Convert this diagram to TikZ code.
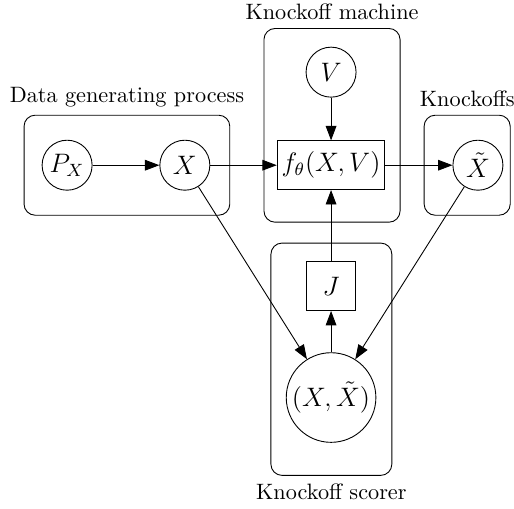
\documentclass[tikz,border=0pt]{standalone}
\usepackage{tikz}
\usetikzlibrary{arrows.meta}
\usepackage{amsmath}

\begin{document}
\begin{tikzpicture}[
    var/.style={draw,circle,minimum size=0.79cm,inner sep=1pt,font=\fontsize{11.5}{13}\selectfont},
    fac/.style={draw,rectangle,minimum height=0.77cm,minimum width=0.77cm,inner sep=2pt,font=\fontsize{11.5}{13}\selectfont},
    plate/.style={draw,rounded corners=5pt},
    edge/.style={-{Triangle[length=6.5pt,width=4.8pt]}}]
    \useasboundingbox (0,0) rectangle (8.12,8.03);

    % plates
    \node[plate,minimum width=3.25cm,minimum height=1.58cm,label={above:Data generating process}] (dgp) at (2.005,5.42) {};
    \node[plate,minimum width=2.15cm,minimum height=3.06cm,label={above:Knockoff machine}] (km) at (5.245,6.05) {};
    \node[plate,minimum width=1.36cm,minimum height=1.58cm,label={above:Knockoffs}] (ko) at (7.38,5.42) {};
    \node[plate,minimum width=1.91cm,minimum height=3.67cm,label={below:Knockoff scorer}] (ks) at (5.235,2.355) {};

    % variables
    \node[var] (px) at (1.06,5.42) {\(P_X\)};
    \node[var] (x) at (2.92,5.42) {\(X\)};
    \node[fac,minimum width=1.56cm] (f) at (5.23,5.42) {\(f_\theta(X,V)\)};
    \node[var] (v) at (5.23,6.89) {\(V\)};
    \node[var] (xt) at (7.55,5.42) {\(\tilde{X}\)};
    \node[fac] (j) at (5.23,3.51) {\(J\)};
    \node[var,minimum size=1.33cm] (xx) at (5.23,1.75) {\((X,\tilde{X})\)};

    % edges
    \draw[edge] (px) -- (x);
    \draw[edge] (x) -- (f);
    \draw[edge] (f) -- (xt);
    \draw[edge] (v) -- (f);
    \draw[edge] (j) -- (f);
    \draw[edge] (xx) -- (j);
    \draw[edge] (x) -- (xx);
    \draw[edge] (xt) -- (xx);
\end{tikzpicture}
\end{document}
